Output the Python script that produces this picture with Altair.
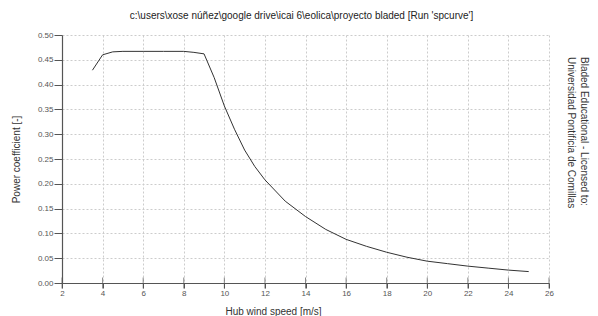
import altair as alt
import pandas as pd

# data
wind_speed = [3.5, 4, 4.5, 5, 6, 7, 8, 8.5, 9, 9.5, 10, 10.5, 11, 11.5, 12,
              13, 14, 15, 16, 17, 18, 19, 20, 21, 22, 23, 24, 25]
power_coef = [0.429, 0.460, 0.466, 0.467, 0.467, 0.467, 0.467, 0.465, 0.462,
              0.414, 0.357, 0.310, 0.268, 0.235, 0.208, 0.165, 0.134, 0.108,
              0.088, 0.074, 0.062, 0.052, 0.044, 0.039, 0.034, 0.030, 0.026,
              0.023]
x_ticks = [2, 4, 6, 8, 10, 12, 14, 16, 18, 20, 22, 24, 26]
y_ticks = [0.0, 0.05, 0.10, 0.15, 0.20, 0.25, 0.30, 0.35, 0.40, 0.45, 0.50]

title_text = "c:\\users\\xose núñez\\google drive\\icai 6\\eolica\\proyecto bladed [Run 'spcurve']"
side_text = "Bladed Educational - Licensed to:\nUniversidad Pontificia de Comillas"

df = pd.DataFrame({"ws": wind_speed, "cp": power_coef})
ticks_df = pd.DataFrame({"t": x_ticks})

FONT = "Liberation Sans"
AXC = "#555555"

x_scale = alt.Scale(domain=[2, 26], nice=False, zero=False)
y_scale = alt.Scale(domain=[0, 0.5], nice=False)

x_axis = alt.Axis(values=x_ticks, title="Hub wind speed [m/s]",
                  format="d", tickSize=5, tickColor=AXC,
                  labelPadding=1, labelFontSize=8, labelColor="#555555",
                  labelFont=FONT, titleFont=FONT, titleFontSize=10,
                  titleFontWeight="normal", titleColor="#333333",
                  titleX=211, titleY=28, titleBaseline="middle",
                  titleAlign="center",
                  domainColor=AXC, domainWidth=1.2,
                  grid=True, gridColor="#cccccc", gridDash=[2, 2],
                  labelFlush=False, labelOverlap=False)
y_axis = alt.Axis(values=y_ticks, title="Power coefficient  [-]",
                  format=".2f", tickSize=8, tickColor=AXC,
                  labelPadding=1, labelFontSize=8, labelColor="#555555",
                  labelFont=FONT, titleFont=FONT, titleFontSize=10,
                  titleFontWeight="normal", titleColor="#333333",
                  titleX=-46, titleY=124, titleBaseline="middle",
                  titleAlign="center",
                  domainColor=AXC, domainWidth=1.2,
                  grid=True, gridColor="#cccccc", gridDash=[2, 2],
                  labelFlush=False, labelOverlap=False)

line = alt.Chart(df).mark_line(color="#333333", strokeWidth=1).encode(
    x=alt.X("ws:Q", scale=x_scale, axis=x_axis),
    y=alt.Y("cp:Q", scale=y_scale, axis=y_axis),
)

xticks_up = alt.Chart(ticks_df).mark_tick(orient="vertical", color=AXC,
                                           size=11, thickness=1).encode(
    x=alt.X("t:Q", scale=x_scale, axis=x_axis),
    y=alt.YDatum(0, scale=y_scale, axis=y_axis),
)

side = alt.Chart(pd.DataFrame({"s": [side_text]})).mark_text(
    angle=90, align="left", baseline="middle", lineBreak="\n",
    font=FONT, fontSize=10, color="#333333", lineHeight=13,
).encode(
    text="s:N",
    x=alt.value(522),
    y=alt.value(22),
)

chart = alt.layer(line, xticks_up, side).properties(
    width=487, height=248,
    title=alt.TitleParams(title_text, font=FONT, fontSize=10,
                          fontWeight="normal", color="#222222",
                          anchor="middle", dx=-4, offset=10),
    padding={"left": 54, "top": 27, "right": 41, "bottom": 33},
    autosize=alt.AutoSizeParams(type="none"),
).configure_view(stroke=None)

chart.save("out.html", embed_options={"renderer": "svg", "actions": False})
